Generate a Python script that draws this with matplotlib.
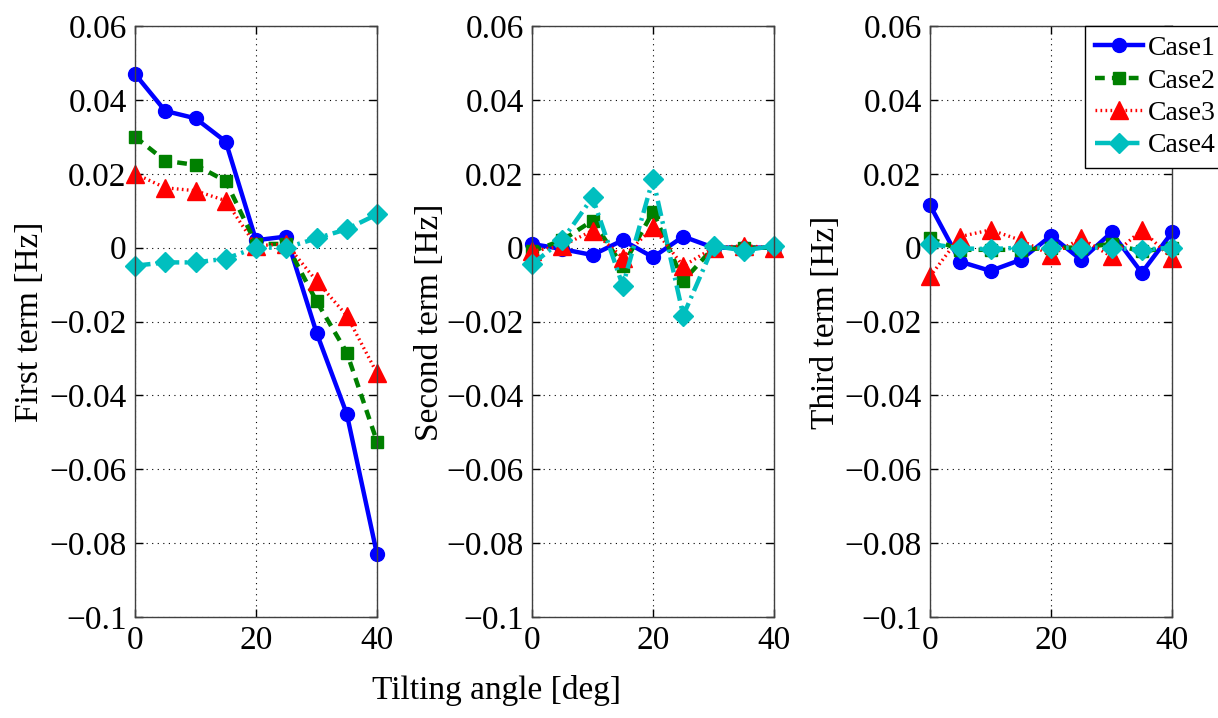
import matplotlib
matplotlib.use("Agg")
import matplotlib.pyplot as plt

plt.rcParams["font.family"] = ["Liberation Serif", "DejaVu Serif"]

angles = [0, 5, 10, 15, 20, 25, 30, 35, 40]
cases = ["Case1", "Case2", "Case3", "Case4"]

# first term [Hz]
first_case1 = [0.047, 0.037, 0.035, 0.0287, 0.002, 0.003, -0.023, -0.045, -0.083]
first_case2 = [0.030, 0.0235, 0.0224, 0.018, 0.001, 0.001, -0.0145, -0.0284, -0.0525]
first_case3 = [0.020, 0.0162, 0.0154, 0.0127, 0.0005, 0.001, -0.009, -0.0184, -0.034]
first_case4 = [-0.0049, -0.004, -0.004, -0.003, 0.0, 0.0, 0.0025, 0.005, 0.009]

# second term [Hz]
second_case1 = [0.001, -0.0004, -0.002, 0.002, -0.0026, 0.003, 0.0, 0.0, 0.0]
second_case2 = [-0.001, 0.002, 0.0073, -0.005, 0.0097, -0.009, 0.0, 0.0, 0.0]
second_case3 = [-0.001, 0.0005, 0.0046, -0.0027, 0.0055, -0.005, 0.0, 0.0005, 0.0]
second_case4 = [-0.0045, 0.002, 0.0136, -0.0103, 0.0186, -0.0184, 0.0005, -0.0008, 0.0005]

# third term [Hz]
third_case1 = [0.0115, -0.0038, -0.0063, -0.0033, 0.0032, -0.0033, 0.0041, -0.0068, 0.0041]
third_case2 = [0.0025, -0.0006, -0.0006, -0.0006, 0.0, 0.0, 0.001, -0.001, 0.0]
third_case3 = [-0.0078, 0.003, 0.0048, 0.002, -0.002, 0.0025, -0.0024, 0.0048, -0.0029]
third_case4 = [0.001, -0.0002, -0.0004, 0.0, 0.0, 0.0, 0.0, -0.0006, 0.0]

yticks = [-0.1, -0.08, -0.06, -0.04, -0.02, 0, 0.02, 0.04, 0.06]
ytick_labels = ["\u22120.1", "\u22120.08", "\u22120.06", "\u22120.04", "\u22120.02", "0",
                "0.02", "0.04", "0.06"]
xticks = [0, 20, 40]

styles = [
    dict(color="#0000ff", ls="-", marker="o", lw=3.2, ms=10),
    dict(color="#008000", ls=(0, (2.2, 1.6)), marker="s", lw=3.2, ms=9),
    dict(color="#ff0000", ls=(0, (0.5, 1.0)), marker="^", lw=2.4, ms=13),
    dict(color="#00bfbf", ls=(0, (3.5, 1.2, 0.6, 1.2)), marker="D", lw=3.2, ms=10),
]

panels = [
    ("First term [Hz]", [first_case1, first_case2, first_case3, first_case4]),
    ("Second term [Hz]", [second_case1, second_case2, second_case3, second_case4]),
    ("Third term [Hz]", [third_case1, third_case2, third_case3, third_case4]),
]

fig = plt.figure(figsize=(12.18, 7.18), dpi=100)
W, H = 1218, 718
lefts = [135, 532, 930]
ylabel_x = [30, 430, 826]

for k, (ylabel, series) in enumerate(panels):
    ax = fig.add_axes([lefts[k] / W, 1 - 617 / H, 242 / W, (617 - 26) / H])
    lines = []
    for name, vals, st in zip(cases, series, styles):
        (ln,) = ax.plot(angles, vals, label=name, clip_on=False, **st)
        lines.append(ln)
    ax.set_xlim(0, 40)
    ax.set_ylim(-0.1, 0.06)
    ax.set_xticks(xticks)
    ax.set_yticks(yticks)
    ax.set_yticklabels(ytick_labels)
    ax.tick_params(direction="in", top=True, right=True, labelsize=24,
                   length=6, width=1.0, pad=6)
    ax.grid(True, color="black", ls=(0, (1, 4)), lw=0.8)
    for sp in ax.spines.values():
        sp.set_linewidth(1.0)
        sp.set_color("#404040")
    fig.text(ylabel_x[k] / W, 1 - 322 / H, ylabel, rotation=90, fontsize=24,
             ha="center", va="center")
    if k == 2:
        leg = ax.legend(handles=lines, loc="upper left", bbox_to_anchor=(0.64, 1.0),
                        fontsize=20, frameon=True, fancybox=False, framealpha=1,
                        edgecolor="black", handlelength=1.75, borderpad=0.35,
                        labelspacing=0.25, handletextpad=0.15, borderaxespad=0)
        leg.get_frame().set_linewidth(1.0)
        leg.set_zorder(5)

fig.text(496 / W, 1 - 690 / H, "Tilting angle [deg]", fontsize=24,
         ha="center", va="center")

fig.savefig("out.png", dpi=100)
